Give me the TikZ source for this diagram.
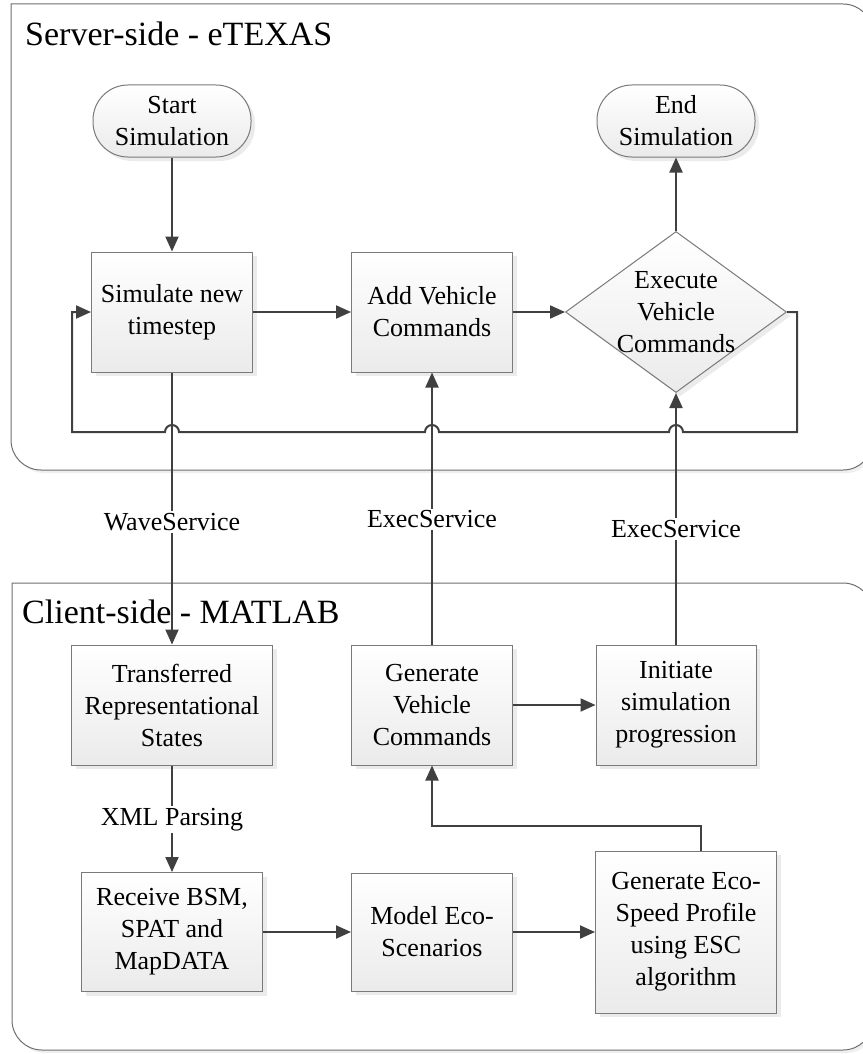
\documentclass[tikz,border=0pt]{standalone}
\usepackage{fontspec}
\setmainfont{Liberation Serif}
\usetikzlibrary{positioning,calc,shapes.geometric,arrows.meta,shadows}
\definecolor{linegray}{HTML}{404040}
\definecolor{boxgray}{HTML}{7A7A7A}
\definecolor{panelgray}{HTML}{6E6E6E}

\begin{document}
\begin{tikzpicture}[x=1pt,y=-1pt,on grid,node distance=260pt,
    font=\fontsize{26}{32}\selectfont]
    \tikzset{
      panel/.style={draw=panelgray,line width=1pt,rounded corners=30pt,line cap=rect,fill=white,
        drop shadow={shadow xshift=3pt,shadow yshift=-3pt,fill=black!12}},
      boxshade/.style={top color=white,bottom color=black!8,draw=boxgray,line width=1pt,
        drop shadow={shadow xshift=4pt,shadow yshift=-4pt,fill=black!15}},
      proc/.style={boxshade,rectangle,align=center,minimum width=161pt,minimum height=120pt,inner sep=2pt},
      term/.style={boxshade,rectangle,rounded corners=35pt,align=center,minimum width=158pt,minimum height=72pt},
      decide/.style={boxshade,diamond,align=center,aspect=1.37,inner sep=-12pt,minimum width=221pt,minimum height=161pt},
      flow/.style={draw=linegray,line width=2pt,-{Triangle[length=15pt,width=13pt]}},
      lbl/.style={fill=white,inner sep=2pt},
      title/.style={font=\fontsize{34}{40}\selectfont,anchor=base west,inner sep=0pt}
    }
    \useasboundingbox (0,0) rectangle (862,1054);

    % panels
    \draw[panel] (11,4) -- (873,4) -- (873,470) -- (11,470) -- (11,4);
    \draw[panel] (12,583) -- (873,583) -- (873,1050) -- (12,1050) -- (12,583);
    \node[title] (srvtitle) at (25,46) {Server-side - eTEXAS};
    \node[title] (clititle) at (22,623) {Client-side - MATLAB};

    % server side
    \node[term] (start) at (172,121) {Start\\Simulation};
    \node[proc] (sim) [below=191pt of start] {Simulate new\\timestep};
    \node[proc] (add) [right=260pt of sim] {Add Vehicle\\Commands};
    \node[decide] (exec) [right=244pt of add] {Execute\\Vehicle\\Commands};
    \node[term] (end) [above=191pt of exec] {End\\Simulation};

    % client side
    \node[proc,minimum width=201pt] (trans) [below=393pt of sim] {Transferred\\Representational\\States};
    \node[proc] (genvc) [below=393pt of add] {Generate\\Vehicle\\Commands};
    \node[proc,minimum width=160pt] (init) [right=244pt of genvc] {Initiate\\simulation\\progression};
    \node[proc,minimum width=181pt,minimum height=119pt] (recv) [below=227pt of trans] {Receive BSM,\\SPAT and\\MapDATA};
    \node[proc,minimum height=118pt] (model) [right=260pt of recv] {Model Eco-\\Scenarios};
    \node[proc,minimum width=181pt,minimum height=162pt] (geneco) [right=254pt of model] {Generate Eco-\\Speed Profile\\using ESC\\algorithm};

    \coordinate (loopR) at (797,432);
    \coordinate (loopL) at (72,432);

    \draw[flow] (start) -- (sim);
    \draw[flow] (sim) -- (add);
    \draw[flow] (add) -- (exec);
    \draw[flow] (exec) -- (end);
    \draw[flow] (exec.east) -| (loopR)
      -- ($(exec.south |- loopR)+(7,0)$) arc[start angle=0,end angle=180,radius=7pt]
      -- ($(add.south |- loopR)+(7,0)$) arc[start angle=0,end angle=180,radius=7pt]
      -- ($(sim.south |- loopR)+(7,0)$) arc[start angle=0,end angle=180,radius=7pt]
      -- (loopL) |- (sim.west);

    \draw[flow] (sim) -- node[lbl,pos=0.55] (wave) {WaveService} (trans);
    \draw[flow] (genvc) -- node[lbl,pos=0.46] (execsvc1) {ExecService} (add);
    \draw[flow] (init) -- node[lbl,pos=0.46] (execsvc2) {ExecService} (exec);
    \draw[flow] (trans) -- node[lbl,pos=0.51] (xml) {XML Parsing} (recv);
    \draw[flow] (genvc) -- (init);
    \draw[flow] (recv) -- (model);
    \draw[flow] (model) -- (geneco);
    \draw[flow] ([xshift=15pt]geneco.north) |- ([yshift=-60pt]genvc.south) -- (genvc.south);
\end{tikzpicture}
\end{document}
